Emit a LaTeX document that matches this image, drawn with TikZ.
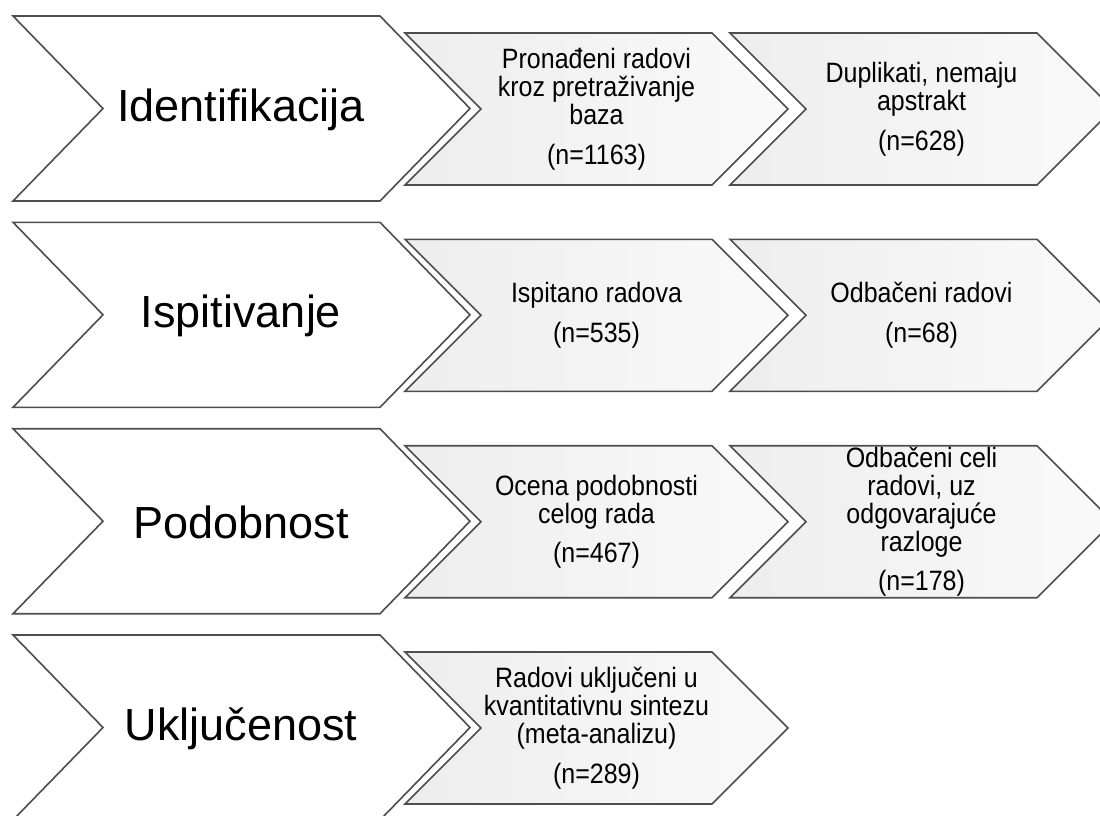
\documentclass[tikz,border=0pt]{standalone}
\usepackage{fontspec}
\usepackage{graphicx}
\setmainfont{Liberation Sans}
\definecolor{chevline}{HTML}{4D4D4D}
\newcommand{\drawbigchevron}[1]{%
  \draw[bigchev] (13,#1) -- (380,#1) -- (470,#1+92.5) -- (380,#1+185)
    -- (13,#1+185) -- (103,#1+92.5) -- cycle;}
\newcommand{\drawsmallchevron}[2]{%
  \draw[smallchev] (#1,#2+17) -- (#1+307,#2+17) -- (#1+383,#2+93) -- (#1+307,#2+169)
    -- (#1,#2+169) -- (#1+76,#2+93) -- cycle;}
\newcommand{\stretchtxt}[1]{\scalebox{1}[1.12]{\begin{tabular}{@{}c@{}}#1\end{tabular}}}
\begin{document}
\begin{tikzpicture}[x=1pt,y=-1pt,
  edge/.style={draw=chevline, line width=1.6pt, line join=miter},
  bigchev/.style={edge, fill=white},
  smallchev/.style={edge, left color=black!7, right color=black!2},
  bigtxt/.style={font=\fontsize{45}{54}\selectfont, align=center, inner sep=0pt},
  smalltxt/.style={font=\fontsize{25}{22.3}\selectfont, inner sep=0pt}]
\useasboundingbox (0,0) rectangle (1100,816);
\clip (0,0) rectangle (1100,816);
% row 1
\drawbigchevron{16}
\drawsmallchevron{405}{16}
\drawsmallchevron{730}{16}
\node[bigtxt] (r1) at (241,110) {Identifikacija};
\node[smalltxt] (r1a) at (596.5,110) {\stretchtxt{Pronađeni radovi\\kroz pretraživanje\\baza\\[10.7pt](n=1163)}};
\node[smalltxt] (r1b) at (921.5,110) {\stretchtxt{Duplikati, nemaju\\apstrakt\\[10.7pt](n=628)}};
% row 2
\drawbigchevron{222.3}
\drawsmallchevron{405}{222.3}
\drawsmallchevron{730}{222.3}
\node[bigtxt] (r2) at (241,316.3) {Ispitivanje};
\node[smalltxt] (r2a) at (596.5,316.3) {\stretchtxt{Ispitano radova\\[10.7pt](n=535)}};
\node[smalltxt] (r2b) at (921.5,316.3) {\stretchtxt{Odbačeni radovi\\[10.7pt](n=68)}};
% row 3
\drawbigchevron{428.7}
\drawsmallchevron{405}{428.7}
\drawsmallchevron{730}{428.7}
\node[bigtxt] (r3) at (241,522.7) {Podobnost};
\node[smalltxt] (r3a) at (596.5,522.7) {\stretchtxt{Ocena podobnosti\\celog rada\\[10.7pt](n=467)}};
\node[smalltxt] (r3b) at (921.5,522.7) {\stretchtxt{Odbačeni celi\\radovi, uz\\odgovarajuće\\razloge\\[10.7pt](n=178)}};
% row 4
\drawbigchevron{635}
\drawsmallchevron{405}{635}
\node[bigtxt] (r4) at (241,729) {Uključenost};
\node[smalltxt] (r4a) at (596.5,729) {\stretchtxt{Radovi uključeni u\\kvantitativnu sintezu\\(meta-analizu)\\[10.7pt](n=289)}};
\end{tikzpicture}
\end{document}
